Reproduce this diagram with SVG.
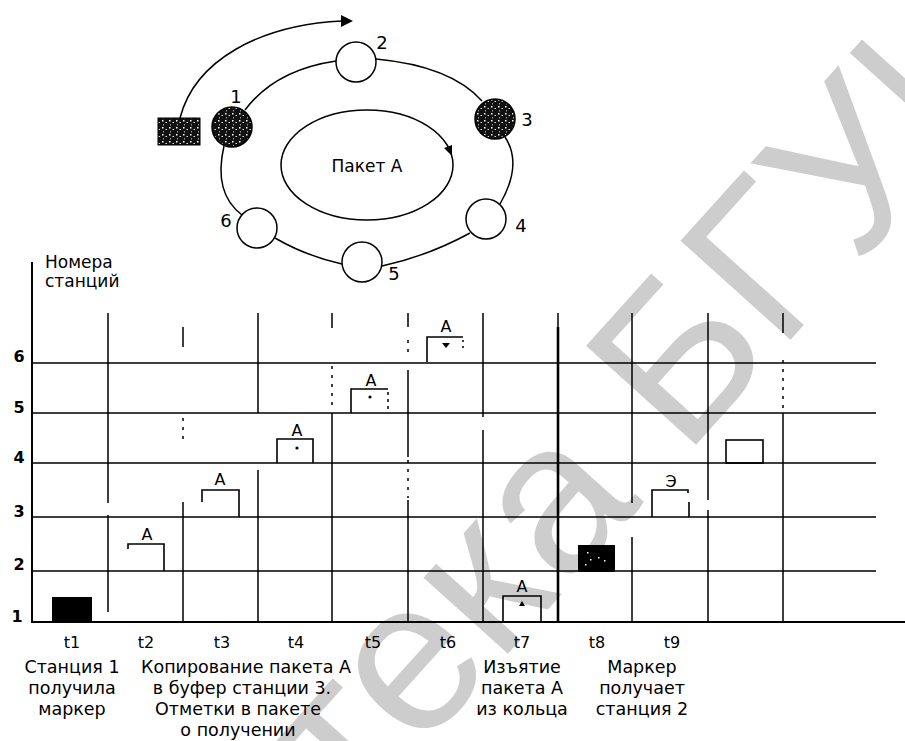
<svg xmlns="http://www.w3.org/2000/svg" width="905" height="741" viewBox="0 0 905 741">
<style>
.ln{stroke:#000;fill:none;stroke-width:1.5}
.g{stroke:#000;fill:none;stroke-width:1.6}
.dot{stroke:#000;fill:none;stroke-width:1.5;stroke-dasharray:3,6}
.st{fill:#fff;stroke:#000;stroke-width:1.5}
.t{font-family:"DejaVu Sans","Liberation Sans",sans-serif;fill:#000}
.lab{font-size:17.5px;text-anchor:middle}
.tk{font-size:16px;text-anchor:middle}
.rn{font-size:16px;text-anchor:middle;font-weight:bold}
.num{font-size:18px;text-anchor:middle}
.pa{font-size:16px;text-anchor:middle}
.wm{font-family:"Liberation Sans",Arial,sans-serif;font-size:215px;fill:#cdcdcd}
</style>
<defs>
<pattern id="speck" width="7" height="7" patternUnits="userSpaceOnUse">
<rect width="7" height="7" fill="#111"/>
<rect x="1" y="1" width="1.5" height="1.5" fill="#fff"/>
<rect x="4.5" y="3" width="1.5" height="1" fill="#ddd"/>
<rect x="2" y="5" width="1" height="1.5" fill="#999"/>
</pattern>
</defs>
<rect width="905" height="741" fill="#fff"/>
<text class="wm" transform="translate(-138,1371) rotate(-48)">Библиотека БГУИР</text>

<g id="connectors">
<path class="ln" d="M245,110 Q275,70 336,61"/>
<path class="ln" d="M376,59 Q451,66 482,101"/>
<path class="ln" d="M505,137 Q523,164 500,204"/>
<path class="ln" d="M470,233 Q428,256 382,266"/>
<path class="ln" d="M342,264 Q306,256 275,238"/>
<path class="ln" d="M242,215 Q213,193 224,146"/>
<path class="ln" d="M180,118 C195,60 260,25 342,21"/>
<polygon points="341,15 353,21 341,27" fill="#000"/>
</g>

<g id="packet-a-ring">
<ellipse class="ln" cx="367" cy="165" rx="86" ry="55"/>
<polygon points="452,156 452,145 444,148" fill="#000"/>
<text class="t" x="367" y="172" font-size="17" text-anchor="middle">Пакет А</text>
</g>
<g id="token"><rect x="158" y="118" width="42" height="27" fill="url(#speck)" stroke="#000"/></g>
<g id="station-1"><circle cx="232" cy="127" r="20" fill="url(#speck)" stroke="#000" stroke-width="1.5"/><text class="t num" x="236" y="103">1</text></g>
<g id="station-2"><circle class="st" cx="356" cy="62" r="20"/><text class="t num" x="382" y="49">2</text></g>
<g id="station-3"><circle cx="495" cy="119" r="20" fill="url(#speck)" stroke="#000" stroke-width="1.5"/><text class="t num" x="527" y="126">3</text></g>
<g id="station-4"><circle class="st" cx="486" cy="219" r="20"/><text class="t num" x="521" y="232">4</text></g>
<g id="station-5"><circle class="st" cx="362" cy="262" r="20"/><text class="t num" x="394" y="280">5</text></g>
<g id="station-6"><circle class="st" cx="257" cy="228" r="20"/><text class="t num" x="226" y="227">6</text></g>

<g id="grid">
<path class="g" d="M32,363 H876 M32,413 H876 M32,463 H876 M32,517 H876 M32,571 H876"/>
<path stroke="#000" stroke-width="2.2" fill="none" d="M32,622 H905"/>
<path stroke="#000" stroke-width="2" fill="none" d="M32,262 V623"/>
<path class="ln" d="M108,313 V503 M108,515 V612 M183,327 V347 M183,502 V622 M258,313 V413 M258,470 V622 M332,313 V328 M332,413 V622 M408,313 V327 M408,370 V457 M408,500 V622 M483,313 V417 M483,430 V622 M558,313 V327 M632,313 V503 M632,537 V622 M708,313 V500 M708,510 V622 M783,313 V333 M783,413 V622"/>
<path stroke="#000" stroke-width="2.6" fill="none" d="M558,327 V622"/>
<path class="dot" d="M183,418 V445 M332,366 V410 M408,340 V356 M408,460 V498 M783,360 V412"/>
</g>

<g id="axis-labels">
<text class="t" x="45" y="268" font-size="17">Номера</text>
<text class="t" x="45" y="287" font-size="17">станций</text>
<text class="t rn" x="19" y="362">6</text>
<text class="t rn" x="19" y="413">5</text>
<text class="t rn" x="19" y="463">4</text>
<text class="t rn" x="19" y="517">3</text>
<text class="t rn" x="19" y="570">2</text>
<text class="t rn" x="17" y="622">1</text>
<text class="t tk" x="72" y="648">t1</text>
<text class="t tk" x="146" y="648">t2</text>
<text class="t tk" x="222" y="648">t3</text>
<text class="t tk" x="296" y="648">t4</text>
<text class="t tk" x="373" y="648">t5</text>
<text class="t tk" x="448" y="648">t6</text>
<text class="t tk" x="522" y="648">t7</text>
<text class="t tk" x="597" y="648">t8</text>
<text class="t tk" x="672" y="648">t9</text>
</g>

<g id="packets">
<rect x="52" y="597" width="40" height="25" fill="#000"/>
<path class="g" d="M128,549 V544 H164 V571"/><text class="t pa" x="147" y="540">А</text>
<path class="g" d="M202,502 V490 H239 V517"/><text class="t pa" x="220" y="485">А</text>
<path class="g" d="M277,463 V439 H313 V463"/><text class="t pa" x="297" y="436">А</text><circle cx="297" cy="448" r="1.6"/>
<path class="g" d="M351,413 V389 H388"/><path class="dot" d="M388,392 V413" style="stroke-dasharray:3,4"/><text class="t pa" x="371" y="386">А</text><circle cx="370" cy="397" r="1.6"/>
<path class="g" d="M427,362 V337 H463"/><path class="dot" d="M463,340 V349" style="stroke-dasharray:2,4"/><text class="t pa" x="446" y="332">А</text><polygon points="442,343 450,343 446,348"/>
<path class="g" d="M503,622 V596 H541 V622"/><text class="t pa" x="522" y="592">А</text><polygon points="519,606 525,606 522,601"/>
<rect x="578" y="545" width="37" height="27" fill="#000"/>
<rect x="587" y="552" width="1.5" height="1.5" fill="#fff"/><rect x="590" y="559" width="1.5" height="1.5" fill="#fff"/><rect x="585" y="564" width="1.5" height="1.5" fill="#fff"/><rect x="598" y="557" width="1.5" height="1.5" fill="#fff"/><rect x="604" y="560" width="1.5" height="1.5" fill="#fff"/>
<path class="g" d="M652,517 V490 H688 V493 M689,502 V517"/><text class="t pa" x="671" y="487">Э</text>
<rect class="g" x="726" y="440" width="37" height="23"/>
</g>

<g id="captions">
<text class="t lab" x="72" y="673">Станция 1</text>
<text class="t lab" x="72" y="694">получила</text>
<text class="t lab" x="72" y="715">маркер</text>
<text class="t lab" x="246" y="673">Копирование пакета А</text>
<text class="t lab" x="242" y="694">в буфер станции 3.</text>
<text class="t lab" x="238" y="715">Отметки в пакете</text>
<text class="t lab" x="238" y="736">о получении</text>
<text class="t lab" x="522" y="673">Изъятие</text>
<text class="t lab" x="522" y="694">пакета А</text>
<text class="t lab" x="522" y="715">из кольца</text>
<text class="t lab" x="642" y="673">Маркер</text>
<text class="t lab" x="642" y="694">получает</text>
<text class="t lab" x="642" y="715">станция 2</text>
</g>
</svg>
